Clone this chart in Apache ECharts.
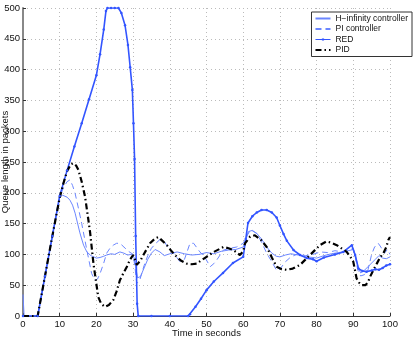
<!DOCTYPE html>
<html>
<head>
<meta charset="utf-8">
<script src="https://cdn.jsdelivr.net/npm/echarts@6/dist/echarts.min.js"></script>
<style>
  html, body { margin: 0; padding: 0; background: #fff; }
  #chart { width: 415px; height: 339px; }
</style>
</head>
<body>
<div id="chart"></div>
<script>
// queue length samples [time s, packets]
var hinfData = [[0,35],[0.3,0],[4,0],[6,65],[8,130],[10,193],[10.8,196],[12,193],[12.8,188],[13.5,180],[14.2,167],[15.5,135],[16.5,115],[17.4,104],[18.5,98],[20,94],[21,95],[22,97],[22.8,99],[24,101],[25,100],[26.4,104],[27.5,102],[28.5,99],[29.5,100],[30.2,96],[30.7,80],[31.2,62],[32,64],[33,78],[34,92],[35,102],[36,108],[37.3,104],[38.5,98],[40,101],[42,104],[44,101],[46,99],[48,100],[50,103],[52,101],[54,105],[56,107],[58,108],[60,112],[60.8,125],[61.4,137],[62.5,139],[63.7,134],[65,125],[66.4,112],[67.8,102],[69,97],[70,96],[71.5,99],[73,101],[75,99],[77,96],[79,95],[80,94],[82,98],[84,101],[86,103],[88,105],[90,108],[90.6,98],[91.3,80],[92,70],[93,74],[94,80],[95,86],[96,92],[97,98],[98,94],[99,93],[100,96]];

var piData = [[0,0],[4,0],[6,65],[8,130],[10,193],[11,208],[12,218],[12.8,221],[13.5,212],[14.2,199],[15.1,175],[16,150],[17.4,107],[18.7,69],[19.6,58],[20.3,60],[21,69],[22,86],[22.8,102],[23.7,110],[24.6,115],[25.5,118],[26.4,118],[27.5,112],[28.5,106],[30,100],[30.5,80],[31,53],[31.8,58],[33,82],[34,98],[35,110],[36.2,118],[37.3,124],[38.2,123],[39.5,112],[41,102],[42.8,88],[44,92],[45.5,118],[46.5,118],[48.2,104],[49.5,96],[51,80],[52,85],[52.8,91],[54.6,107],[56.5,110],[58.2,112],[60,118],[61.2,132],[62,140],[63.7,134],[65,120],[66.4,102],[67.8,88],[69.1,74],[70,76],[71.5,88],[73,96],[75,101],[77,98],[79,100],[81,104],[83,103],[85,106],[87,104],[88.5,106],[90,110],[90.6,95],[91.2,75],[92,65],[93,67],[94,75],[95,100],[95.8,112],[96.8,118],[97.5,112],[98.5,102],[99.3,108],[100,100]];

var redData = [[0,0],[4,0],[6,65],[8,130],[10,195],[12,236],[14,275],[16,313],[18,352],[20,391],[21,425],[22,465],[22.6,495],[23,500],[24,500],[25,500],[26,500],[26.8,492],[27.8,472],[28.6,440],[29.2,404],[29.8,367],[30.1,313],[30.4,255],[30.7,130],[31.1,20],[31.4,0],[35,0],[40,0],[45,0],[45.5,3],[47,15],[48.5,28],[50,42],[52,56],[54.5,70],[57.2,86],[60,96],[60.7,125],[61.3,151],[62.5,162],[63.7,168],[65,172],[66.4,172],[67.8,168],[69.1,160],[70,147],[71,133],[71.9,122],[73.7,107],[75.5,99],[77.3,94],[79,92],[80,89],[82,95],[85,100],[87.3,104],[89.6,115],[90.5,99],[91.4,77],[92.5,73],[93.6,72],[95,74],[96,76],[97,75],[98,78],[99,82],[100,84]];

var pidData = [[0,0],[4,0],[6,65],[8,130],[10,192],[11,215],[12,235],[13,246],[13.7,248],[14.5,244],[15.1,237],[16,218],[16.9,194],[17.6,165],[18.3,135],[19.2,85],[20.5,31],[21.3,20],[22.3,15],[23.4,18],[24.6,26],[25.5,40],[26.4,58],[27.4,70],[28.3,80],[29.2,92],[30,99],[30.5,92],[31,83],[32,90],[32.8,99],[34.6,118],[36,126],[36.9,128],[38,122],[39.2,115],[40.5,105],[41.9,96],[43,90],[44.6,85],[46,84],[47.3,85],[48.5,90],[50,96],[52,104],[54.6,112],[56,110],[57.3,107],[59.1,99],[60,105],[60.5,118],[61.9,129],[63.2,131],[64.8,124],[66.4,112],[67.8,95],[69.1,80],[70.5,76],[71.9,75],[73.5,77],[75.5,83],[78.2,99],[80.9,115],[82.7,121],[84,119],[85.5,115],[88.2,104],[89.3,95],[90,88],[90.9,61],[91.6,54],[92.3,50],[93.3,50],[94,55],[94.6,64],[95.5,75],[96.4,85],[97.3,95],[98.2,102],[99,112],[99.5,123],[100,128]];

var seriesNames = ['H\u2212infinity controller', 'PI controller', 'RED', 'PID'];

var font = 'Liberation Sans, Arial, Helvetica, sans-serif';
// legend icon for RED: a line with a small dot in the middle
var redIcon = 'path://M0,0L0.01,0L0,0.01Z M0,3.5L15,3.5L15,4.5L0,4.5Z M6.4,2.9L8.6,2.9L8.6,5.1L6.4,5.1Z M15,8L14.99,8L15,7.99Z';

var chart = echarts.init(document.getElementById('chart'));

var option = {
    animation: false,
    backgroundColor: '#fff',
    textStyle: { fontFamily: font },
    grid: { left: 23, right: 25, top: 8, bottom: 23, containLabel: false, outerBoundsMode: 'none' },
    legend: {
        data: [
            { name: seriesNames[0], itemStyle: { opacity: 0 } },
            { name: seriesNames[1], itemStyle: { opacity: 0 } },
            { name: seriesNames[2], icon: redIcon },
            { name: seriesNames[3], itemStyle: { opacity: 0 } }
        ],
        orient: 'vertical',
        right: 3,
        top: 12,
        backgroundColor: '#fff',
        borderColor: '#333',
        borderWidth: 1,
        borderRadius: 0,
        padding: [2, 4, 2, 3],
        itemGap: 1.5,
        itemWidth: 15,
        itemHeight: 8,
        textStyle: { fontSize: 8.5, color: '#111', fontFamily: font, padding: [0, 0, 0, 0] },
        align: 'left'
    },
    xAxis: {
        type: 'value',
        min: 0,
        max: 100,
        interval: 10,
        name: 'Time in seconds',
        nameLocation: 'middle',
        nameGap: 12,
        nameMoveOverlap: false,
        nameTextStyle: { fontSize: 9.5, color: '#111' },
        axisLine: { lineStyle: { color: '#333', width: 1 } },
        axisTick: { inside: true, length: 3, lineStyle: { color: '#333' } },
        axisLabel: { fontSize: 9.5, color: '#111', margin: 3 },
        splitLine: { lineStyle: { color: '#bbb', type: [1, 3], width: 1 } }
    },
    yAxis: {
        type: 'value',
        min: 0,
        max: 500,
        interval: 50,
        name: 'Queue length in packets',
        nameLocation: 'middle',
        nameGap: 13,
        nameMoveOverlap: false,
        nameTextStyle: { fontSize: 9.5, color: '#111' },
        axisLine: { show: true, lineStyle: { color: '#888', width: 2 } },
        axisTick: { show: true, inside: true, length: 3, lineStyle: { color: '#333' } },
        axisLabel: { fontSize: 9.5, color: '#111', margin: 3 },
        splitLine: { lineStyle: { color: '#bbb', type: [1, 3], width: 1 } }
    },
    series: [
        {
            name: seriesNames[0],
            type: 'line',
            data: hinfData,
            symbol: 'none',
            lineStyle: { color: '#6b86ff', width: 1 },
            itemStyle: { color: '#6b86ff' }
        },
        {
            name: seriesNames[1],
            type: 'line',
            data: piData,
            symbol: 'none',
            lineStyle: { color: '#6b86ff', width: 1, type: [6, 4] },
            itemStyle: { color: '#6b86ff' }
        },
        {
            name: seriesNames[2],
            type: 'line',
            data: redData,
            symbol: 'circle',
            symbolSize: 2.5,
            lineStyle: { color: '#3355ff', width: 1.6 },
            itemStyle: { color: '#3355ff' }
        },
        {
            name: seriesNames[3],
            type: 'line',
            data: pidData,
            symbol: 'none',
            lineStyle: { color: '#000', width: 2.2, type: [6, 3, 1.5, 3] },
            itemStyle: { color: '#000' }
        }
    ]
};

chart.setOption(option);
</script>
</body>
</html>
